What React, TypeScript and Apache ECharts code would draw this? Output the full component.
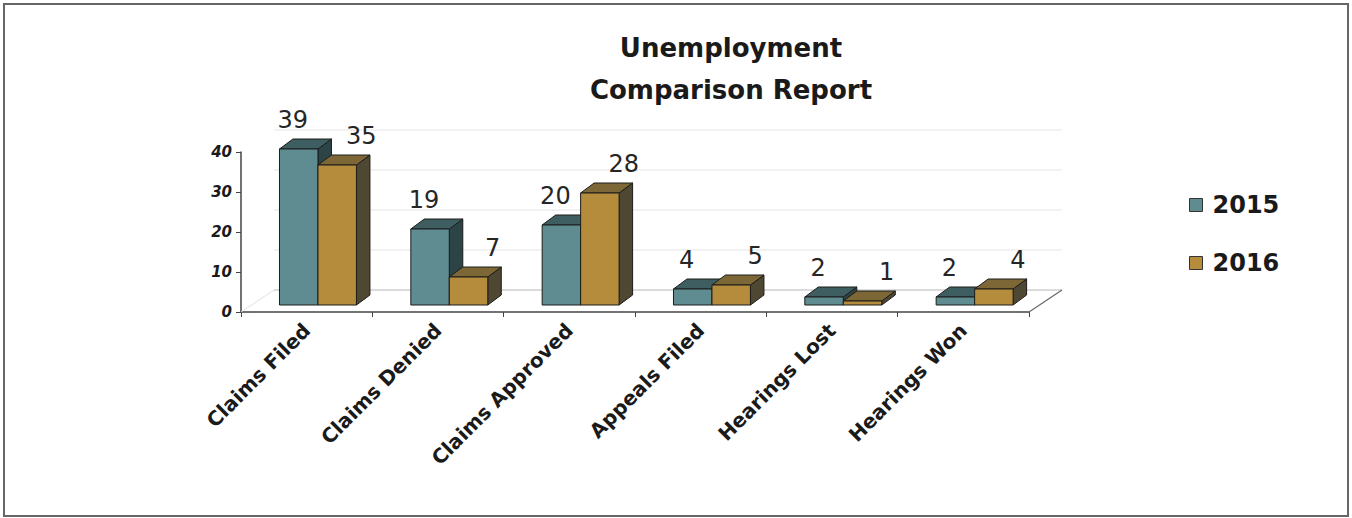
import React, { useEffect, useRef } from "react";
import * as echarts from "echarts";

const categories = ["Claims Filed", "Claims Denied", "Claims Approved", "Appeals Filed", "Hearings Lost", "Hearings Won"];
const seriesNames = ["2015", "2016"];
const values2015 = [39, 19, 20, 4, 2, 2];
const values2016 = [35, 7, 28, 5, 1, 4];
const yTicks = [0, 10, 20, 30, 40];

const FONT = "DejaVu Sans";
const palettes = [
  { front: "#5f8c90", top: "#3f5e61", side: "#2d4447" },
  { front: "#b48c3c", top: "#7d6737", side: "#4e4731" },
];
const EDGE = "#1c1c1c";
// depth / perspective constants (pixels)
const WALL_DX = 33;
const WALL_DY = -22;
const BAR_SHIFT_Y = -7;
const BAR_DX = 13.5;
const BAR_DY = -10;
const BAR_FRAC = 0.293;
const LABEL_DX = [-6, 24];
const LABEL_DY = -29;

function makeBarRender(si: number) {
  const pal = palettes[si];
  return (params: any, api: any) => {
    const idx = api.value(0);
    const v = api.value(1);
    const base = api.coord([idx, 0]);
    const top = api.coord([idx, v]);
    const w = api.size([1, 0])[0];
    const bw = w * BAR_FRAC;
    const x0 = base[0] - w / 2 + bw * (1 + si);
    const yB = base[1] + BAR_SHIFT_Y;
    const yT = top[1] + BAR_SHIFT_Y;
    const lw = 1;
    return {
      type: "group",
      children: [
        {
          type: "polygon",
          shape: { points: [[x0 + bw, yT], [x0 + bw + BAR_DX, yT + BAR_DY], [x0 + bw + BAR_DX, yB + BAR_DY], [x0 + bw, yB]] },
          style: { fill: pal.side, stroke: EDGE, lineWidth: lw },
        },
        {
          type: "polygon",
          shape: { points: [[x0, yT], [x0 + bw, yT], [x0 + bw + BAR_DX, yT + BAR_DY], [x0 + BAR_DX, yT + BAR_DY]] },
          style: { fill: pal.top, stroke: EDGE, lineWidth: lw },
        },
        {
          type: "rect",
          shape: { x: x0, y: yT, width: bw, height: yB - yT },
          style: { fill: pal.front, stroke: EDGE, lineWidth: lw },
        },
        {
          type: "text",
          style: {
            text: String(v),
            x: x0 + bw / 2 + LABEL_DX[si],
            y: yT + LABEL_DY,
            textAlign: "center",
            textVerticalAlign: "middle",
            fontSize: 24,
            fontFamily: FONT,
            fontWeight: "normal",
            fill: "#262626",
          },
        },
      ],
    };
  };
}

function wallRender(params: any, api: any) {
  const v = api.value(1);
  const p0 = api.coord([0, v]);
  const pN = api.coord([categories.length - 1, v]);
  const w = api.size([1, 0])[0];
  const xL = p0[0] - w / 2;
  const xR = pN[0] + w / 2;
  const y = p0[1];
  const children: any[] = [
    {
      type: "line",
      shape: { x1: xL + WALL_DX, y1: y + WALL_DY, x2: xR + WALL_DX, y2: y + WALL_DY },
      style: { stroke: v === 0 ? "#b8b8b8" : "#e4e4e4", lineWidth: 1 },
    },
  ];
  if (v === 0) {
    children.push({
      type: "line",
      shape: { x1: xL, y1: y, x2: xL + WALL_DX, y2: y + WALL_DY },
      style: { stroke: "#e0e0e0", lineWidth: 1 },
    });
    children.push({
      type: "line",
      shape: { x1: xR, y1: y, x2: xR + WALL_DX, y2: y + WALL_DY },
      style: { stroke: "#666666", lineWidth: 1.2 },
    });
  }
  return { type: "group", children };
}

export default function App() {
  const ref = useRef<HTMLDivElement>(null);
  useEffect(() => {
    document.body.style.margin = "0";
    const chart = echarts.init(ref.current!, null, { renderer: "svg" });
    const option: any = {
      animation: false,
      backgroundColor: "#ffffff",
      grid: { left: 241, top: 152, width: 788, height: 160, containLabel: false },
      xAxis: {
        type: "category",
        data: categories,
        axisLine: { lineStyle: { color: "#444", width: 1.5 } },
        axisTick: { show: true, length: 5, lineStyle: { color: "#444" } },
        axisLabel: {
          interval: 0,
          rotate: 45,
          margin: 15,
          fontSize: 20,
          fontWeight: "bold",
          fontFamily: FONT,
          color: "#1a1a1a",
        },
        splitLine: { show: false },
      },
      yAxis: {
        type: "value",
        min: 0,
        max: 40,
        interval: 10,
        axisLine: { show: true, lineStyle: { color: "#444", width: 1.5 } },
        axisTick: { show: true, length: 5, lineStyle: { color: "#444" } },
        splitLine: { show: false },
        axisLabel: {
          margin: 9,
          fontSize: 15,
          fontStyle: "italic",
          fontWeight: "bold",
          fontFamily: FONT,
          color: "#1a1a1a",
        },
      },
      legend: {
        orient: "vertical",
        left: 1189,
        top: 193,
        itemGap: 34,
        itemWidth: 13,
        itemHeight: 13,
        icon: "rect",
        padding: 0,
        data: [
          { name: seriesNames[0], itemStyle: { color: palettes[0].front, borderColor: "#333", borderWidth: 1 } },
          { name: seriesNames[1], itemStyle: { color: palettes[1].front, borderColor: "#333", borderWidth: 1 } },
        ],
        textStyle: {
          fontSize: 24,
          fontWeight: "bold",
          fontFamily: FONT,
          color: "#1a1a1a",
          lineHeight: 24,
          padding: [0, 0, 0, 5],
        },
      },
      graphic: [
        {
          type: "rect",
          shape: { x: 4, y: 4, width: 1344, height: 512 },
          style: { fill: "none", stroke: "#666", lineWidth: 2 },
          silent: true,
        },
        {
          type: "text",
          x: 731,
          y: 69,
          style: {
            text: "Unemployment\nComparison Report",
            textAlign: "center",
            textVerticalAlign: "middle",
            fontSize: 26,
            fontWeight: "bold",
            fontFamily: FONT,
            lineHeight: 42,
            fill: "#1a1a1a",
          },
        },
      ],
      series: [
        {
          type: "custom",
          name: "wall",
          silent: true,
          z: 1,
          data: yTicks.map((v) => [0, v]),
          renderItem: wallRender,
        },
        {
          type: "custom",
          name: seriesNames[0],
          z: 3,
          itemStyle: { color: palettes[0].front },
          data: values2015.map((v, i) => [i, v]),
          renderItem: makeBarRender(0),
        },
        {
          type: "custom",
          name: seriesNames[1],
          z: 4,
          itemStyle: { color: palettes[1].front },
          data: values2016.map((v, i) => [i, v]),
          renderItem: makeBarRender(1),
        },
      ],
    };
    chart.setOption(option);
    return () => chart.dispose();
  }, []);
  return <div ref={ref} style={{ width: 1352, height: 518 }} />;
}
